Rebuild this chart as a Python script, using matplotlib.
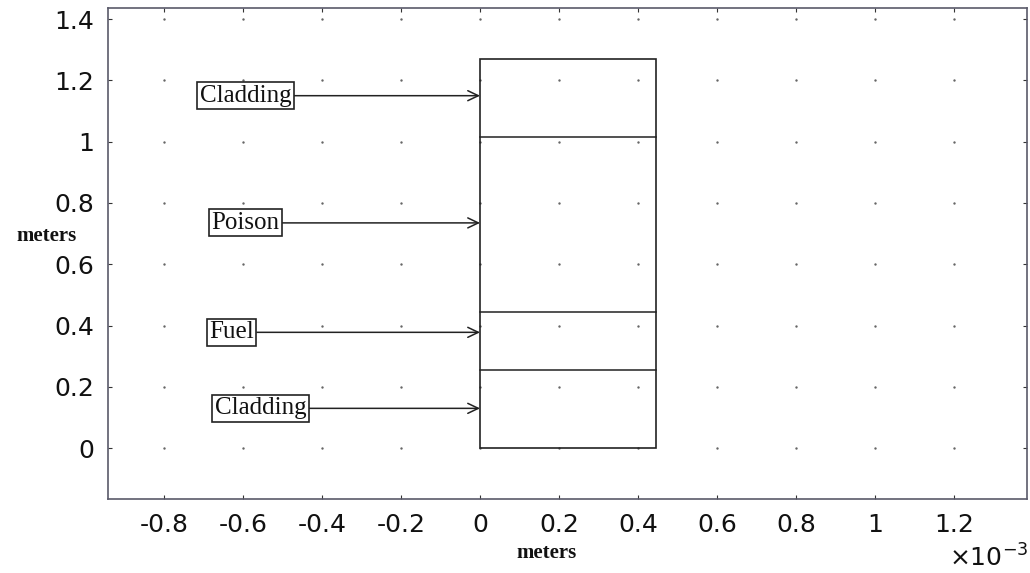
import matplotlib
matplotlib.use("Agg")
import matplotlib.pyplot as plt
import numpy as np
from matplotlib.patches import Rectangle
from matplotlib.ticker import FuncFormatter

# Layer stack of the plate (bottom to top), heights in meters
layer_bounds = [0.0, 0.255, 0.445, 1.015, 1.27]
plate_width = 0.445e-3

# Callout labels and the height where each arrow hits the plate
labels = ['Cladding', 'Poison', 'Fuel', 'Cladding']
label_y = [1.15, 0.735, 0.378, 0.13]
label_x = [-0.478e-3, -0.508e-3, -0.573e-3, -0.440e-3]  # right edge of each text

xticks = [-0.8e-3, -0.6e-3, -0.4e-3, -0.2e-3, 0, 0.2e-3, 0.4e-3, 0.6e-3, 0.8e-3, 1.0e-3, 1.2e-3]
yticks = [0, 0.2, 0.4, 0.6, 0.8, 1.0, 1.2, 1.4]

fig = plt.figure(figsize=(10.3, 5.73), dpi=100)
ax = fig.add_axes([0.1049, 0.129, 0.8922, 0.857])
ax.set_xlim(-0.942e-3, 1.385e-3)
ax.set_ylim(-0.166, 1.436)

# dotted grid: only the intersections show
gx, gy = np.meshgrid(xticks, yticks)
ax.scatter(gx.ravel(), gy.ravel(), s=3, color='#666666', zorder=1, linewidths=0)

# plate outline and layer boundaries
ax.add_patch(Rectangle((0, layer_bounds[0]), plate_width, layer_bounds[-1] - layer_bounds[0],
                       fill=False, edgecolor='#222222', linewidth=1.2, zorder=3))
for yb in layer_bounds[1:-1]:
    ax.plot([0, plate_width], [yb, yb], color='#222222', linewidth=1.1, zorder=3)

for text, tx, ty in zip(labels, label_x, label_y):
    ax.annotate(text, xy=(0, ty), xytext=(tx, ty), ha='right', va='center',
                family='Liberation Serif', fontsize=18, color='#111111',
                bbox=dict(boxstyle='square,pad=0.1', fc='white', ec='#222222', lw=1.2),
                arrowprops=dict(arrowstyle='->,head_length=0.42,head_width=0.2',
                                color='#222222', lw=1.1, shrinkA=0, shrinkB=0))

ax.set_xticks(xticks)
ax.set_yticks(yticks)
fmt = FuncFormatter(lambda v, p: '%g' % round(v / 1e-3, 6))
ax.xaxis.set_major_formatter(fmt)
ax.yaxis.set_major_formatter(FuncFormatter(lambda v, p: '%g' % round(v, 6)))
ax.tick_params(direction='in', length=3, width=0.8, color='#333333', top=True, right=True,
               labelsize=18, labelcolor='#111111', pad=10)
for s in ax.spines.values():
    s.set_color('#5a5a6a')
    s.set_linewidth(1.2)

fig.text(0.531, 0.035, 'meters', family='Liberation Serif', fontweight='bold', fontsize=15,
         ha='center', va='center', color='#111111')
fig.text(0.045, 0.589, 'meters', family='Liberation Serif', fontweight='bold', fontsize=15,
         ha='center', va='center', color='#111111')
fig.text(0.998, 0.012, r'$\times10^{-3}$', fontsize=18, ha='right', va='baseline', color='#111111')

fig.savefig('out.png', dpi=100)
